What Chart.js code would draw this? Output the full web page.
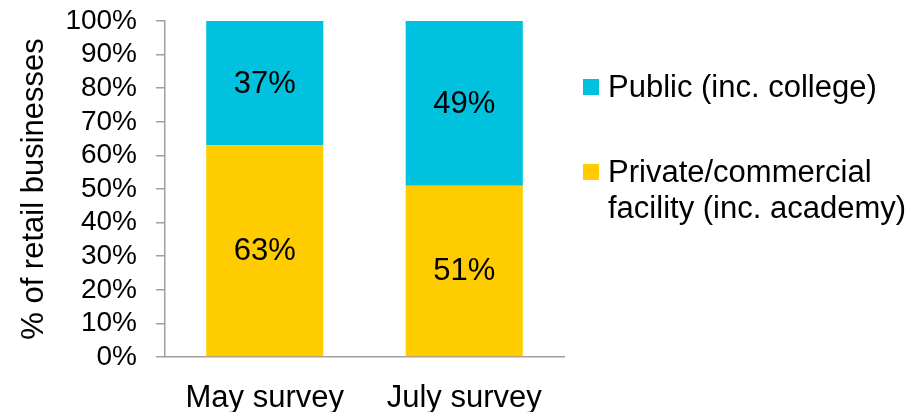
<!DOCTYPE html>
<html>
<head>
<meta charset="utf-8">
<script src="https://cdn.jsdelivr.net/npm/chart.js@4/dist/chart.umd.min.js"></script>
<style>
  html, body { margin: 0; padding: 0; background: #fff; }
  #wrap { width: 916px; height: 412px; }
</style>
</head>
<body>
<div id="wrap"><canvas id="chart" width="916" height="412"></canvas></div>
<script>
var surveys = ['May survey', 'July survey'];
var privateShare = [63, 51];
var publicShare = [37, 49];
var legendLines = [
   ['Public (inc. college)'],
   ['Private/commercial', 'facility (inc. academy)']
];

var FONT = "'Liberation Sans', Arial, sans-serif";
var CYAN = '#00C1DE';
var YELLOW = '#FFCC00';
var AXIS = '#A0A0A0';

// percentages written in the middle of each stacked segment
var segmentLabels = {
   id: 'segmentLabels',
   afterDatasetsDraw: function(chart) {
      var ctx = chart.ctx;
      ctx.save();
      ctx.font = '31px ' + FONT;
      ctx.fillStyle = '#000';
      ctx.textAlign = 'center';
      ctx.textBaseline = 'middle';
      chart.data.datasets.forEach(function(ds, i) {
         chart.getDatasetMeta(i).data.forEach(function(bar, j) {
            var p = bar.getProps(['x', 'y', 'base'], true);
            ctx.fillText(ds.data[j] + '%', p.x, (p.y + p.base) / 2 + 1);
         });
      });
      ctx.restore();
   }
};

// legend on the right, public first
var sideLegend = {
   id: 'sideLegend',
   afterDraw: function(chart) {
      var ctx = chart.ctx;
      var order = [1, 0];
      var tops = [87, 172];
      ctx.save();
      ctx.font = '31px ' + FONT;
      ctx.textBaseline = 'middle';
      ctx.textAlign = 'left';
      order.forEach(function(di, k) {
         var ds = chart.data.datasets[di];
         ctx.fillStyle = ds.backgroundColor;
         ctx.fillRect(583, tops[k] - 8, 16, 16);
         ctx.fillStyle = '#000';
         legendLines[k].forEach(function(line, n) {
            ctx.fillText(line, 608, tops[k] + n * 36 + 1);
         });
      });
      ctx.restore();
   }
};

new Chart(document.getElementById('chart'), {
   type: 'bar',
   data: {
      labels: surveys,
      datasets: [
         {
            label: 'Private/commercial facility (inc. academy)',
            data: privateShare,
            backgroundColor: YELLOW,
            barPercentage: 0.587,
            categoryPercentage: 1
         },
         {
            label: 'Public (inc. college)',
            data: publicShare,
            backgroundColor: CYAN,
            barPercentage: 0.587,
            categoryPercentage: 1
         }
      ]
   },
   options: {
      responsive: false,
      animation: false,
      layout: { padding: { top: 21, right: 352, left: 0, bottom: 0 } },
      plugins: {
         legend: { display: false },
         tooltip: { enabled: false }
      },
      scales: {
         x: {
            stacked: true,
            grid: { display: false },
            border: { display: true, color: AXIS, width: 1.5 },
            ticks: { color: '#000', font: { family: FONT, size: 31 }, padding: 15 },
            afterFit: function(scale) {
               scale.height = 55;
               scale.paddingLeft = 0;
               scale.paddingRight = 0;
            }
         },
         y: {
            stacked: true,
            min: 0,
            max: 100,
            ticks: {
               stepSize: 10,
               autoSkip: false,
               color: '#000',
               font: { family: FONT, size: 28 },
               padding: 19,
               callback: function(v) { return v + '%'; }
            },
            grid: { drawOnChartArea: false, tickLength: 9, color: AXIS, lineWidth: 1.5 },
            border: { display: true, color: AXIS, width: 1.5 },
            title: {
               display: true,
               text: '% of retail businesses',
               color: '#000',
               font: { family: FONT, size: 31 },
               padding: { top: 16, bottom: 0 }
            },
            afterFit: function(scale) {
               scale.width = 165;
               scale.paddingTop = 0;
               scale.paddingBottom = 0;
            }
         }
      }
   },
   plugins: [segmentLabels, sideLegend]
});
</script>
</body>
</html>
